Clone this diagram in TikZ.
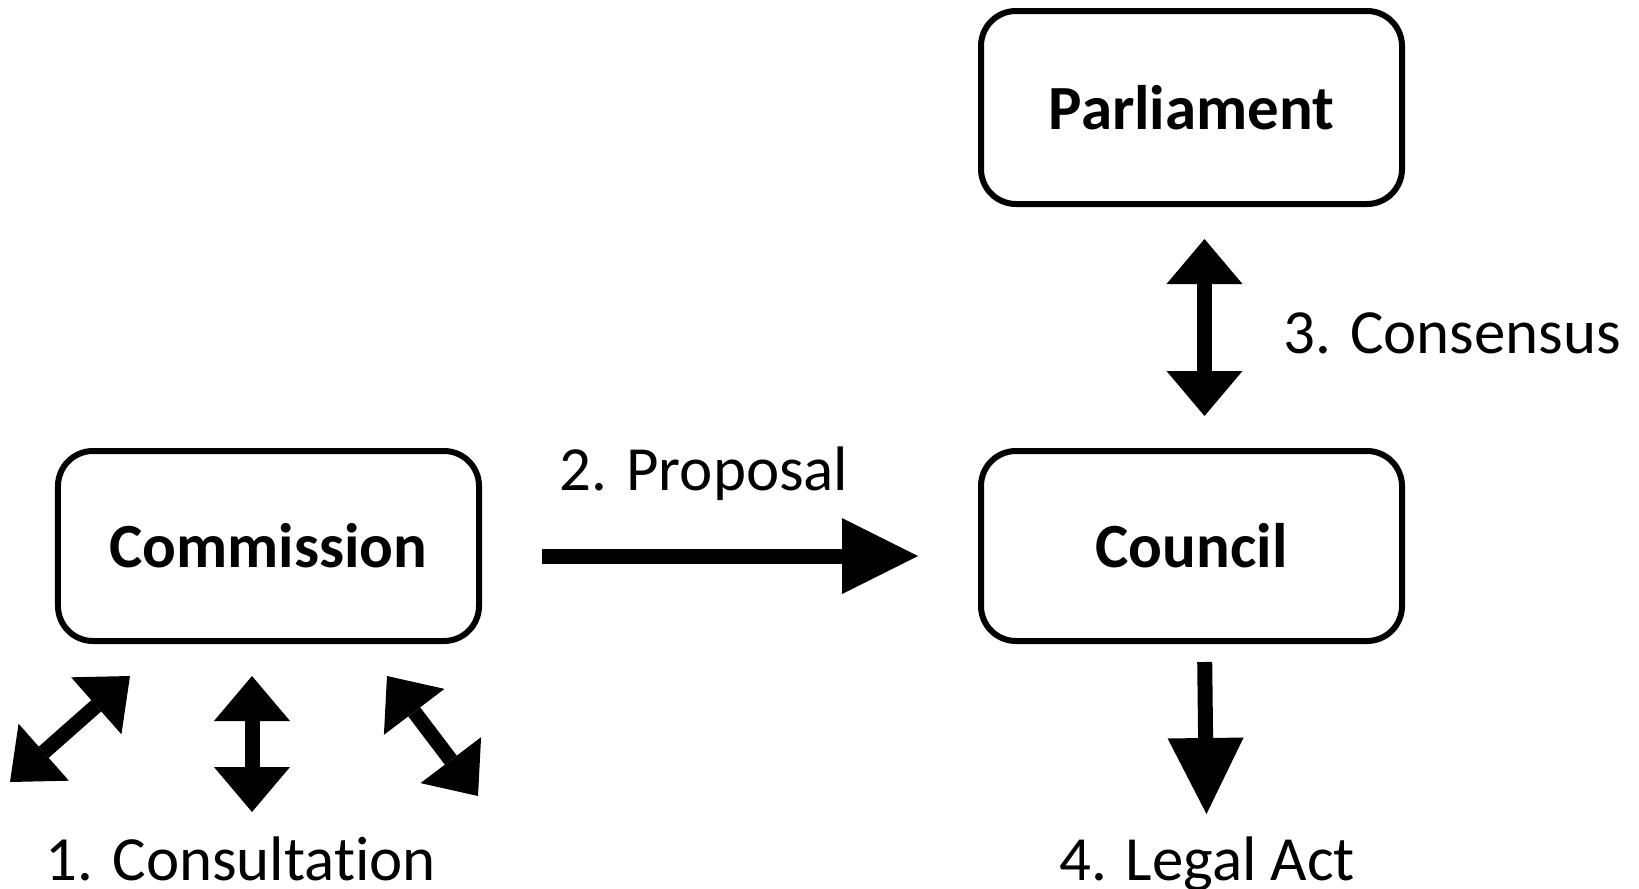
\documentclass[tikz,border=0pt]{standalone}
\usepackage{fontspec}
\setmainfont{Carlito}[Ligatures=NoCommon]
\usetikzlibrary{arrows.meta}
\begin{document}
\begin{tikzpicture}[font=\fontsize{17.9}{22}\selectfont,
	body/.style={draw,line width=0.06cm,rounded corners=0.35cm,minimum width=4.21cm,minimum height=1.90cm,font=\fontsize{17.9}{22}\selectfont\bfseries},
	bigarrow/.style={line width=0.15cm,-{Triangle[length=0.76cm,width=0.76cm,line width=0pt]}},
	twoway/.style={line width=0.15cm,{Triangle[length=0.45cm,width=0.76cm,line width=0pt]}-{Triangle[length=0.45cm,width=0.76cm,line width=0pt]}}]
	\useasboundingbox (0,0) rectangle (16.39,8.88);
	\node[body] (commission) at (2.685,3.42) {Commission};
	\node[body] (council) at (11.915,3.42) {Council};
	\node[body,minimum height=1.93cm] (parliament) at (11.915,7.805) {Parliament};
	\node[anchor=base] (proposal) at (7.04,3.98) {2. Proposal};
	\node[anchor=base west] (consensus) at (12.71,5.35) {3. Consensus};
	\node[anchor=base] (legal) at (12.07,0.08) {4. Legal Act};
	\node[anchor=base] (consultation) at (2.41,0.08) {1. Consultation};
	\coordinate (acttip) at (12.065,0.74);
	\coordinate (leftA) at (0.10,1.06);
	\coordinate (leftB) at (1.30,2.12);
	\coordinate (midA) at (2.52,2.12);
	\coordinate (midB) at (2.52,0.76);
	\coordinate (rightA) at (3.87,2.12);
	\coordinate (rightB) at (4.78,0.92);
	\draw[bigarrow,shorten <=0.6cm,shorten >=0.6cm] ([yshift=-0.1cm]commission.east) -- ([yshift=-0.1cm]council.west);
	\draw[twoway,shorten <=0.32cm,shorten >=0.32cm] ([xshift=0.13cm]parliament.south) -- ([xshift=0.13cm]council.north);
	\draw[bigarrow,shorten <=0.18cm] ([xshift=0.13cm]council.south) -- (acttip);
	\draw[twoway] (leftA) -- (leftB);
	\draw[twoway] (midA) -- (midB);
	\draw[twoway] (rightA) -- (rightB);
\end{tikzpicture}
\end{document}
